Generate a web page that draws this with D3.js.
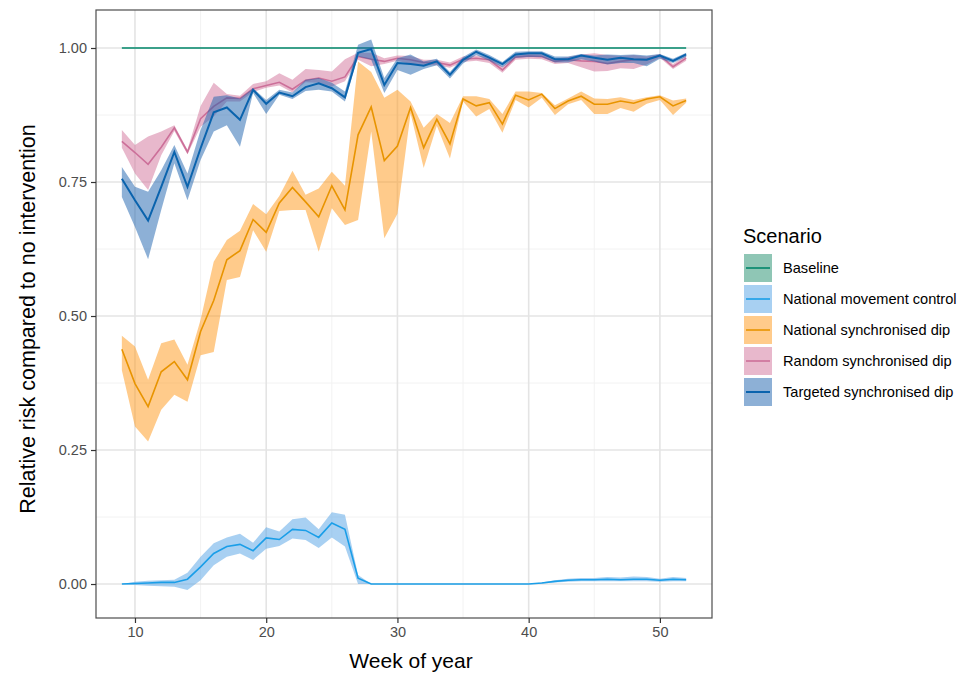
<!DOCTYPE html>
<html>
<head>
<meta charset="utf-8">
<script src="https://cdn.jsdelivr.net/npm/d3@7"></script>
<style>
  body { margin: 0; background: #fff; }
  text { font-family: "Liberation Sans", Arial, sans-serif; }
</style>
</head>
<body>
<div id="chart"></div>
<script>
// data, weeks 9..52
var weeks = d3.range(9, 53);

var baseMean = weeks.map(function() { return 1; });

var nmcMean = [0, 0.001, 0.002, 0.003, 0.003, 0.009, 0.032, 0.057, 0.070, 0.074, 0.062, 0.086, 0.083, 0.102, 0.100, 0.087, 0.114, 0.102, 0.011, 0,
  0, 0, 0, 0, 0, 0, 0, 0, 0, 0, 0, 0,
  0.002, 0.005, 0.007, 0.008, 0.008, 0.009, 0.008, 0.009, 0.009, 0.007, 0.009, 0.008];
var nmcLo = [0, -0.002, -0.003, -0.004, -0.005, -0.011, 0.007, 0.035, 0.051, 0.057, 0.045, 0.066, 0.071, 0.085, 0.082, 0.067, 0.087, 0.070, 0, 0,
  0, 0, 0, 0, 0, 0, 0, 0, 0, 0, 0, 0,
  0.001, 0.003, 0.004, 0.005, 0.005, 0.005, 0.005, 0.005, 0.005, 0.004, 0.005, 0.005];
var nmcHi = [0, 0.004, 0.006, 0.007, 0.008, 0.021, 0.051, 0.076, 0.087, 0.094, 0.077, 0.106, 0.098, 0.121, 0.124, 0.102, 0.134, 0.129, 0.017, 0,
  0, 0, 0, 0, 0, 0, 0, 0, 0, 0, 0, 0,
  0.003, 0.007, 0.010, 0.011, 0.011, 0.013, 0.012, 0.014, 0.013, 0.010, 0.013, 0.011];

var nsdMean = [0.438, 0.374, 0.331, 0.396, 0.415, 0.381, 0.471, 0.529, 0.605, 0.622, 0.680, 0.656, 0.711, 0.740, 0.713, 0.685, 0.743, 0.698, 0.838, 0.890,
  0.790, 0.817, 0.889, 0.814, 0.867, 0.821, 0.905, 0.892, 0.898, 0.858, 0.912, 0.903, 0.914, 0.887, 0.901, 0.910, 0.895, 0.895, 0.901, 0.897, 0.905, 0.909, 0.892, 0.902];
var nsdLo = [0.399, 0.294, 0.266, 0.325, 0.353, 0.340, 0.427, 0.433, 0.567, 0.573, 0.660, 0.620, 0.696, 0.698, 0.698, 0.620, 0.701, 0.670, 0.679, 0.844,
  0.645, 0.691, 0.878, 0.776, 0.855, 0.794, 0.900, 0.872, 0.886, 0.842, 0.903, 0.889, 0.907, 0.875, 0.895, 0.903, 0.877, 0.877, 0.888, 0.881, 0.896, 0.903, 0.875, 0.898];
var nsdHi = [0.463, 0.443, 0.381, 0.449, 0.456, 0.409, 0.493, 0.601, 0.642, 0.659, 0.709, 0.690, 0.724, 0.771, 0.726, 0.738, 0.769, 0.743, 0.975, 0.955,
  0.907, 0.922, 0.900, 0.851, 0.877, 0.860, 0.910, 0.910, 0.905, 0.877, 0.919, 0.919, 0.916, 0.893, 0.906, 0.919, 0.906, 0.905, 0.908, 0.903, 0.908, 0.912, 0.902, 0.906];

var rsdMean = [0.826, 0.805, 0.783, 0.815, 0.851, 0.806, 0.868, 0.891, 0.907, 0.906, 0.924, 0.930, 0.936, 0.923, 0.940, 0.944, 0.938, 0.946, 0.984, 0.979,
  0.975, 0.981, 0.978, 0.973, 0.973, 0.968, 0.979, 0.981, 0.978, 0.959, 0.983, 0.985, 0.984, 0.975, 0.978, 0.976, 0.975, 0.971, 0.975, 0.978, 0.979, 0.986, 0.965, 0.981];
var rsdLo = [0.814, 0.766, 0.735, 0.800, 0.845, 0.802, 0.853, 0.872, 0.900, 0.900, 0.918, 0.926, 0.930, 0.917, 0.936, 0.935, 0.928, 0.938, 0.978, 0.966,
  0.970, 0.976, 0.970, 0.968, 0.968, 0.963, 0.974, 0.976, 0.972, 0.954, 0.978, 0.980, 0.979, 0.970, 0.972, 0.964, 0.956, 0.957, 0.962, 0.961, 0.969, 0.982, 0.961, 0.976];
var rsdHi = [0.847, 0.819, 0.835, 0.844, 0.856, 0.810, 0.892, 0.935, 0.914, 0.911, 0.933, 0.938, 0.953, 0.941, 0.961, 0.959, 0.956, 0.979, 0.991, 0.991,
  0.981, 0.986, 0.985, 0.978, 0.978, 0.973, 0.984, 0.986, 0.983, 0.965, 0.988, 0.990, 0.989, 0.980, 0.983, 0.988, 0.990, 0.987, 0.985, 0.987, 0.984, 0.989, 0.970, 0.986];

var tsdMean = [0.756, 0.716, 0.678, 0.741, 0.806, 0.741, 0.813, 0.880, 0.889, 0.866, 0.922, 0.896, 0.917, 0.910, 0.927, 0.934, 0.925, 0.908, 0.991, 0.998,
  0.931, 0.972, 0.970, 0.967, 0.975, 0.950, 0.978, 0.993, 0.982, 0.970, 0.988, 0.990, 0.990, 0.979, 0.979, 0.986, 0.982, 0.978, 0.982, 0.979, 0.978, 0.986, 0.976, 0.988];
var tsdLo = [0.722, 0.666, 0.606, 0.698, 0.785, 0.716, 0.791, 0.844, 0.856, 0.816, 0.916, 0.877, 0.913, 0.905, 0.920, 0.922, 0.919, 0.900, 0.984, 0.978,
  0.916, 0.959, 0.950, 0.961, 0.968, 0.943, 0.971, 0.987, 0.976, 0.964, 0.982, 0.983, 0.983, 0.973, 0.973, 0.979, 0.975, 0.969, 0.972, 0.972, 0.966, 0.980, 0.972, 0.983];
var tsdHi = [0.778, 0.741, 0.732, 0.772, 0.819, 0.766, 0.847, 0.909, 0.912, 0.906, 0.925, 0.903, 0.922, 0.917, 0.941, 0.944, 0.935, 0.919, 1.006, 1.016,
  0.944, 0.981, 0.988, 0.975, 0.980, 0.955, 0.983, 0.997, 0.987, 0.974, 0.993, 0.994, 0.994, 0.984, 0.984, 0.989, 0.986, 0.988, 0.987, 0.988, 0.986, 0.989, 0.980, 0.991];

var scenarios = ["Baseline", "National movement control", "National synchronised dip", "Random synchronised dip", "Targeted synchronised dip"];
var lineColors = ["#00876a", "#1a9ee8", "#e89400", "#cc6f99", "#0a63ad"];
var fillColors = ["#1f8d6b", "#51a1e5", "#ff9717", "#d17199", "#1b61ad"];

var series = [
  { mean: baseMean, lo: baseMean, hi: baseMean },
  { mean: nmcMean, lo: nmcLo, hi: nmcHi },
  { mean: nsdMean, lo: nsdLo, hi: nsdHi },
  { mean: rsdMean, lo: rsdLo, hi: rsdHi },
  { mean: tsdMean, lo: tsdLo, hi: tsdHi }
];

var xTicks = [10, 20, 30, 40, 50];
var yTicks = [0, 0.25, 0.5, 0.75, 1];

// chart area
var svgWidth = 968;
var svgHeight = 675;
var panel = { left: 96, right: 712, top: 10, bottom: 618 };

var svg = d3.select("#chart")
  .append("svg")
  .attr("width", svgWidth)
  .attr("height", svgHeight);

var x = d3.scaleLinear()
  .domain([7.03, 53.97])
  .range([panel.left, panel.right]);
var y = d3.scaleLinear()
  .domain([-0.0634, 1.0709])
  .range([panel.bottom, panel.top]);

// grid lines
var grid = svg.append("g");
[15, 25, 35, 45].forEach(function(v) {
  grid.append("line")
    .attr("x1", x(v)).attr("x2", x(v))
    .attr("y1", panel.top).attr("y2", panel.bottom)
    .attr("stroke", "#f2f2f2").attr("stroke-width", 1);
});
[0.125, 0.375, 0.625, 0.875].forEach(function(v) {
  grid.append("line")
    .attr("x1", panel.left).attr("x2", panel.right)
    .attr("y1", y(v)).attr("y2", y(v))
    .attr("stroke", "#f2f2f2").attr("stroke-width", 1);
});
xTicks.forEach(function(v) {
  grid.append("line")
    .attr("x1", x(v)).attr("x2", x(v))
    .attr("y1", panel.top).attr("y2", panel.bottom)
    .attr("stroke", "#e4e4e4").attr("stroke-width", 1.6);
});
yTicks.forEach(function(v) {
  grid.append("line")
    .attr("x1", panel.left).attr("x2", panel.right)
    .attr("y1", y(v)).attr("y2", y(v))
    .attr("stroke", "#e4e4e4").attr("stroke-width", 1.6);
});

// ribbons and lines, one scenario after another
var area = d3.area()
  .x(function(d, i) { return x(weeks[i]); })
  .y0(function(d) { return y(d[0]); })
  .y1(function(d) { return y(d[1]); });
var line = d3.line()
  .x(function(d, i) { return x(weeks[i]); })
  .y(function(d) { return y(d); });

series.forEach(function(s, k) {
  var band = s.lo.map(function(v, i) { return [v, s.hi[i]]; });
  svg.append("path")
    .attr("d", area(band))
    .attr("fill", fillColors[k])
    .attr("fill-opacity", 0.5);
  svg.append("path")
    .attr("d", line(s.mean))
    .attr("fill", "none")
    .attr("stroke", lineColors[k])
    .attr("stroke-width", k === 4 ? 2 : 1.6);
});

// panel border
svg.append("rect")
  .attr("x", panel.left).attr("y", panel.top)
  .attr("width", panel.right - panel.left)
  .attr("height", panel.bottom - panel.top)
  .attr("fill", "none")
  .attr("stroke", "#4d4d4d")
  .attr("stroke-width", 1.2);

// axes
var bottomAxis = d3.axisBottom(x).tickValues(xTicks).tickSize(5).tickPadding(4);
var leftAxis = d3.axisLeft(y).tickValues(yTicks).tickSize(5).tickPadding(4)
  .tickFormat(d3.format(".2f"));

var gx = svg.append("g")
  .attr("transform", "translate(0," + panel.bottom + ")")
  .call(bottomAxis);
var gy = svg.append("g")
  .attr("transform", "translate(" + panel.left + ",0)")
  .call(leftAxis);
[gx, gy].forEach(function(g) {
  g.select(".domain").remove();
  g.selectAll(".tick line").attr("stroke", "#333").attr("stroke-width", 1.2);
  g.selectAll(".tick text")
    .attr("fill", "#4d4d4d")
    .attr("font-size", 14.5)
    .attr("font-family", "Liberation Sans, Arial, sans-serif");
});

// axis titles
svg.append("text")
  .attr("x", 411)
  .attr("y", 668)
  .attr("text-anchor", "middle")
  .attr("font-size", 21)
  .attr("fill", "#000")
  .text("Week of year");

svg.append("text")
  .attr("transform", "translate(35,319)rotate(-90)")
  .attr("text-anchor", "middle")
  .attr("font-size", 21.5)
  .attr("fill", "#000")
  .text("Relative risk compared to no intervention");

// legend
var legend = svg.append("g").attr("transform", "translate(743,0)");
legend.append("text")
  .attr("x", 0).attr("y", 243)
  .attr("font-size", 20)
  .attr("fill", "#000")
  .text("Scenario");

scenarios.forEach(function(name, k) {
  var cy = 268 + k * 31;
  legend.append("rect")
    .attr("x", 1).attr("y", cy - 14)
    .attr("width", 28).attr("height", 28)
    .attr("fill", fillColors[k])
    .attr("fill-opacity", 0.5);
  legend.append("line")
    .attr("x1", 3).attr("x2", 27)
    .attr("y1", cy).attr("y2", cy)
    .attr("stroke", lineColors[k])
    .attr("stroke-width", k === 4 ? 2 : 1.6);
  legend.append("text")
    .attr("x", 40).attr("y", cy + 5)
    .attr("font-size", 14.6)
    .attr("fill", "#000")
    .text(name);
});
</script>
</body>
</html>
